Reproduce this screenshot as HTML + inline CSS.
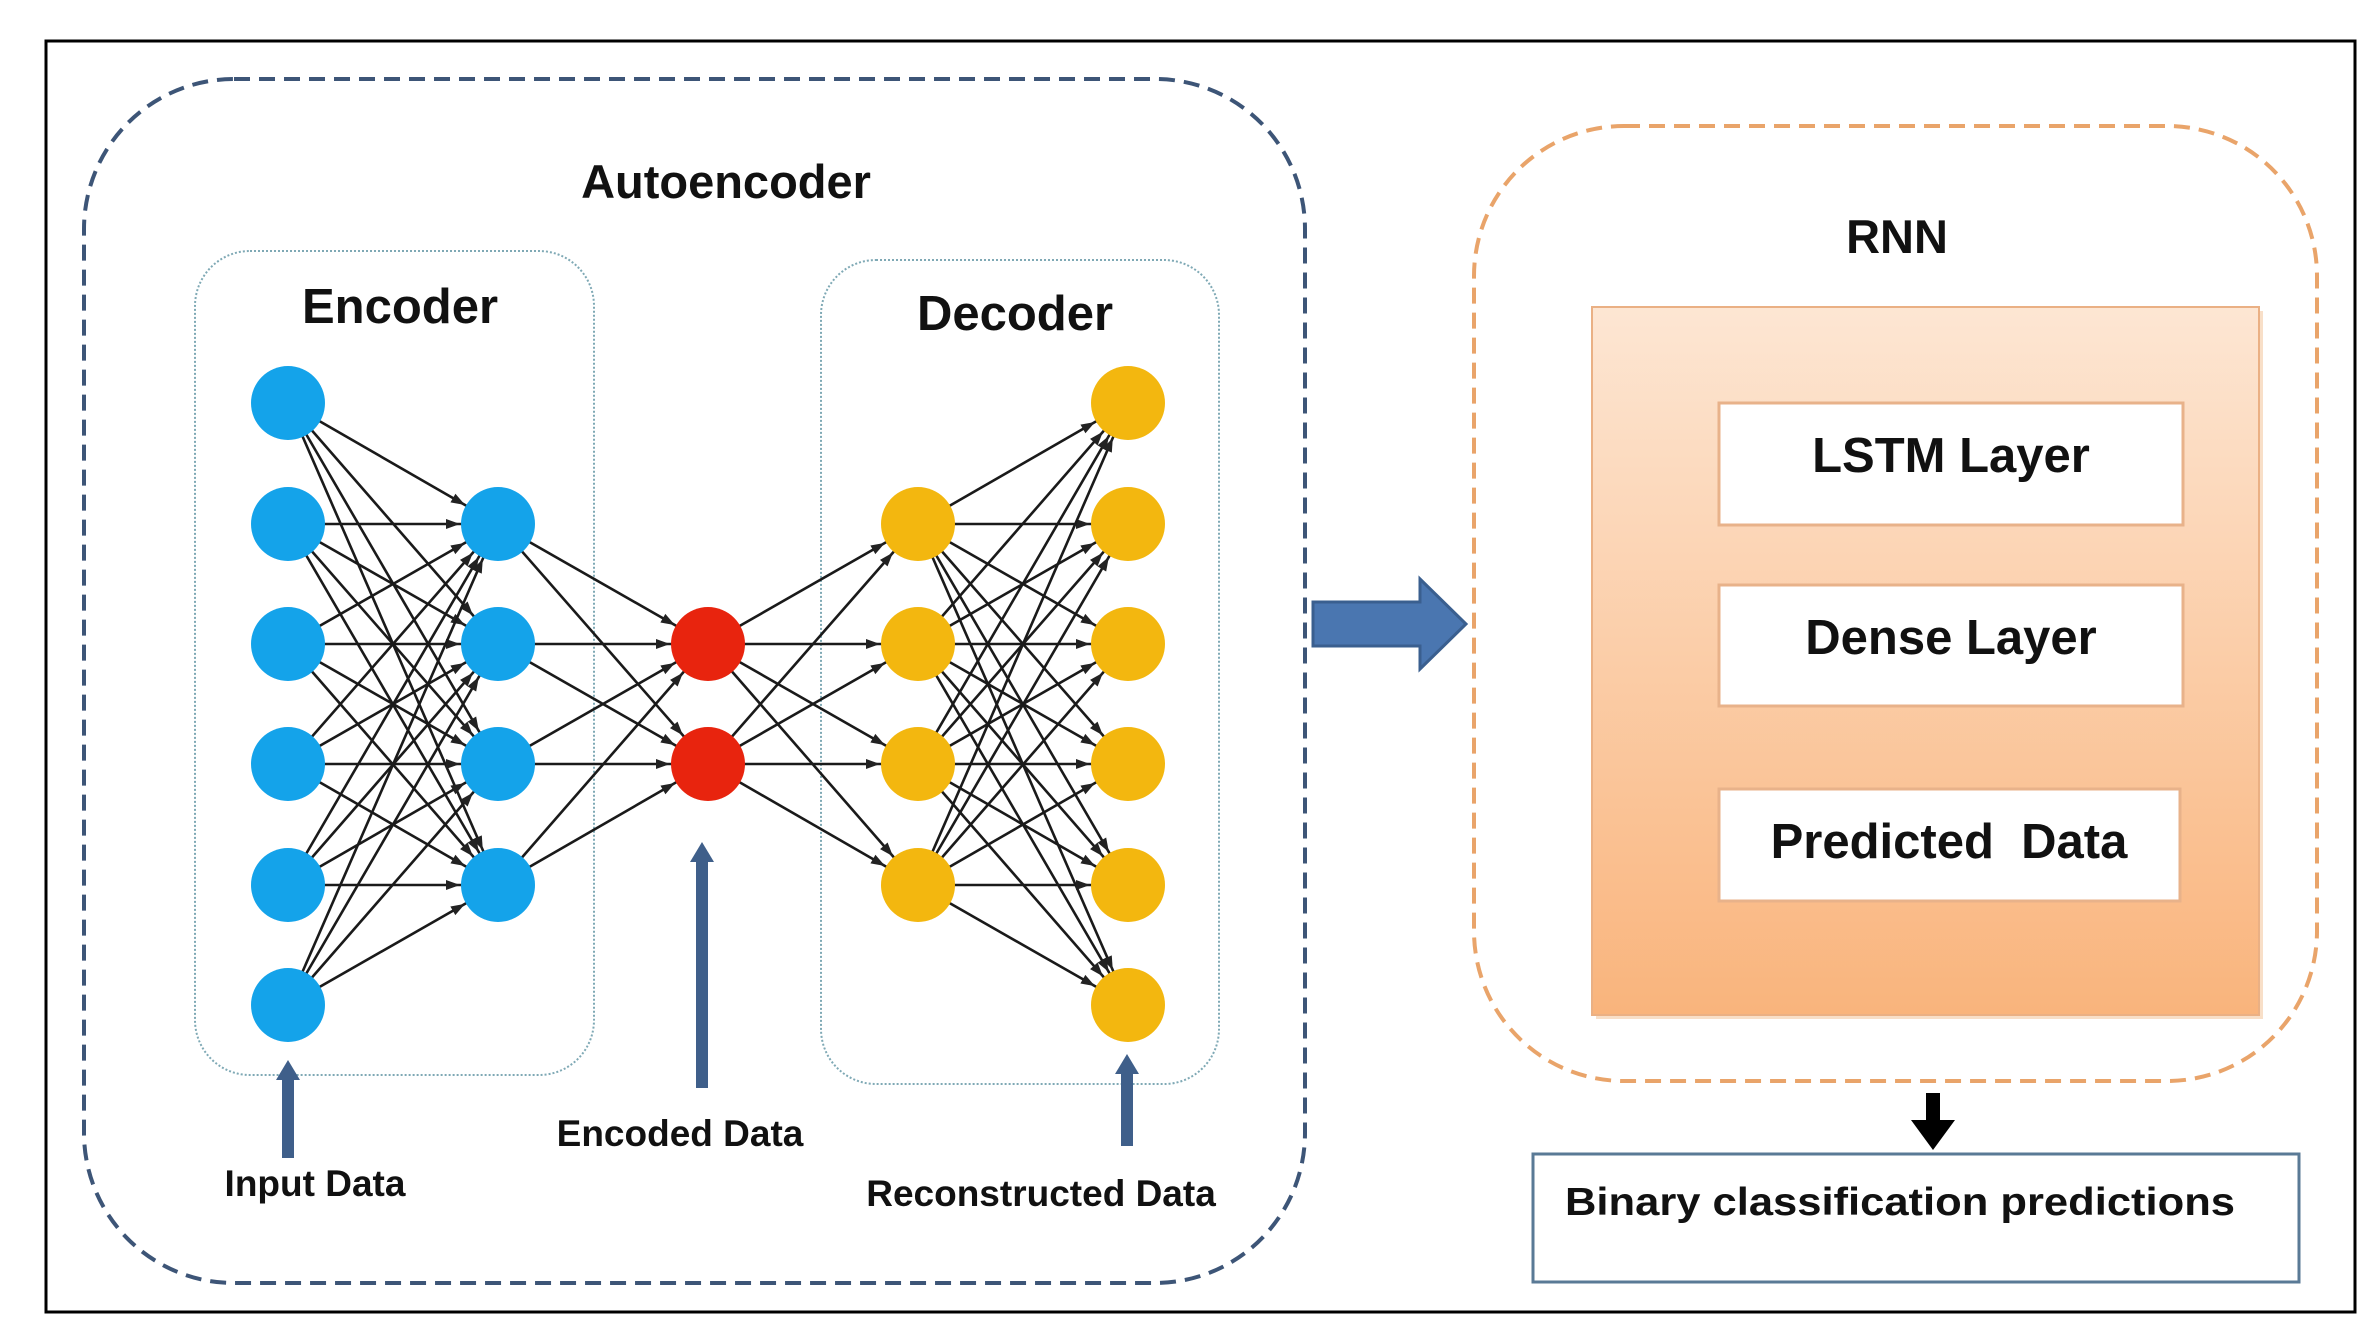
<!DOCTYPE html>
<html><head><meta charset="utf-8"><style>
html,body{margin:0;padding:0;background:#fff}
svg{display:block}
text{font-family:"Liberation Sans",sans-serif;font-weight:bold;fill:#111}
</style></head><body>
<svg width="2375" height="1339" viewBox="0 0 2375 1339" xmlns="http://www.w3.org/2000/svg">
<defs>
<marker id="a" markerUnits="userSpaceOnUse" markerWidth="1" markerHeight="1" refX="0" refY="0" orient="auto" style="overflow:visible">
<path d="M-52,-5 L-38,0 L-52,5 z" fill="#222"/>
</marker>
<linearGradient id="og" x1="0" y1="0" x2="0" y2="1">
<stop offset="0" stop-color="#fde6d3"/><stop offset="1" stop-color="#f9b47c"/>
</linearGradient>
</defs>
<rect x="46" y="41" width="2309" height="1271" fill="none" stroke="#000" stroke-width="3"/>
<rect x="84" y="79" width="1221" height="1204" rx="150" fill="none" stroke="#3d5577" stroke-width="4" stroke-dasharray="16,9"/>
<text x="726" y="198" font-size="47" text-anchor="middle">Autoencoder</text>
<rect x="195" y="251" width="399" height="824" rx="55" fill="none" stroke="#7fa9b5" stroke-width="2" stroke-dasharray="2,2"/>
<rect x="821" y="260" width="398" height="824" rx="55" fill="none" stroke="#7fa9b5" stroke-width="2" stroke-dasharray="2,2"/>
<text x="400" y="323" font-size="49" text-anchor="middle">Encoder</text>
<text x="1015" y="330" font-size="49" text-anchor="middle">Decoder</text>
<g stroke="#1a1a1a" stroke-width="2.6" marker-end="url(#a)">
<line x1="288" y1="403" x2="498" y2="524"/><line x1="288" y1="403" x2="498" y2="644"/><line x1="288" y1="403" x2="498" y2="764"/><line x1="288" y1="403" x2="498" y2="885"/>
<line x1="288" y1="524" x2="498" y2="524"/><line x1="288" y1="524" x2="498" y2="644"/><line x1="288" y1="524" x2="498" y2="764"/><line x1="288" y1="524" x2="498" y2="885"/>
<line x1="288" y1="644" x2="498" y2="524"/><line x1="288" y1="644" x2="498" y2="644"/><line x1="288" y1="644" x2="498" y2="764"/><line x1="288" y1="644" x2="498" y2="885"/>
<line x1="288" y1="764" x2="498" y2="524"/><line x1="288" y1="764" x2="498" y2="644"/><line x1="288" y1="764" x2="498" y2="764"/><line x1="288" y1="764" x2="498" y2="885"/>
<line x1="288" y1="885" x2="498" y2="524"/><line x1="288" y1="885" x2="498" y2="644"/><line x1="288" y1="885" x2="498" y2="764"/><line x1="288" y1="885" x2="498" y2="885"/>
<line x1="288" y1="1005" x2="498" y2="524"/><line x1="288" y1="1005" x2="498" y2="644"/><line x1="288" y1="1005" x2="498" y2="764"/><line x1="288" y1="1005" x2="498" y2="885"/>
<line x1="498" y1="524" x2="708" y2="644"/><line x1="498" y1="524" x2="708" y2="764"/>
<line x1="498" y1="644" x2="708" y2="644"/><line x1="498" y1="644" x2="708" y2="764"/>
<line x1="498" y1="764" x2="708" y2="644"/><line x1="498" y1="764" x2="708" y2="764"/>
<line x1="498" y1="885" x2="708" y2="644"/><line x1="498" y1="885" x2="708" y2="764"/>
<line x1="708" y1="644" x2="918" y2="524"/><line x1="708" y1="644" x2="918" y2="644"/><line x1="708" y1="644" x2="918" y2="764"/><line x1="708" y1="644" x2="918" y2="885"/>
<line x1="708" y1="764" x2="918" y2="524"/><line x1="708" y1="764" x2="918" y2="644"/><line x1="708" y1="764" x2="918" y2="764"/><line x1="708" y1="764" x2="918" y2="885"/>
<line x1="918" y1="524" x2="1128" y2="403"/><line x1="918" y1="524" x2="1128" y2="524"/><line x1="918" y1="524" x2="1128" y2="644"/><line x1="918" y1="524" x2="1128" y2="764"/><line x1="918" y1="524" x2="1128" y2="885"/><line x1="918" y1="524" x2="1128" y2="1005"/>
<line x1="918" y1="644" x2="1128" y2="403"/><line x1="918" y1="644" x2="1128" y2="524"/><line x1="918" y1="644" x2="1128" y2="644"/><line x1="918" y1="644" x2="1128" y2="764"/><line x1="918" y1="644" x2="1128" y2="885"/><line x1="918" y1="644" x2="1128" y2="1005"/>
<line x1="918" y1="764" x2="1128" y2="403"/><line x1="918" y1="764" x2="1128" y2="524"/><line x1="918" y1="764" x2="1128" y2="644"/><line x1="918" y1="764" x2="1128" y2="764"/><line x1="918" y1="764" x2="1128" y2="885"/><line x1="918" y1="764" x2="1128" y2="1005"/>
<line x1="918" y1="885" x2="1128" y2="403"/><line x1="918" y1="885" x2="1128" y2="524"/><line x1="918" y1="885" x2="1128" y2="644"/><line x1="918" y1="885" x2="1128" y2="764"/><line x1="918" y1="885" x2="1128" y2="885"/><line x1="918" y1="885" x2="1128" y2="1005"/>
</g>
<g fill="#14a3ea">
<circle cx="288" cy="403" r="37"/><circle cx="288" cy="524" r="37"/><circle cx="288" cy="644" r="37"/><circle cx="288" cy="764" r="37"/><circle cx="288" cy="885" r="37"/><circle cx="288" cy="1005" r="37"/>
<circle cx="498" cy="524" r="37"/><circle cx="498" cy="644" r="37"/><circle cx="498" cy="764" r="37"/><circle cx="498" cy="885" r="37"/>
</g>
<g fill="#e8240e"><circle cx="708" cy="644" r="37"/><circle cx="708" cy="764" r="37"/></g>
<g fill="#f3b70f">
<circle cx="918" cy="524" r="37"/><circle cx="918" cy="644" r="37"/><circle cx="918" cy="764" r="37"/><circle cx="918" cy="885" r="37"/>
<circle cx="1128" cy="403" r="37"/><circle cx="1128" cy="524" r="37"/><circle cx="1128" cy="644" r="37"/><circle cx="1128" cy="764" r="37"/><circle cx="1128" cy="885" r="37"/><circle cx="1128" cy="1005" r="37"/>
</g>
<g fill="#3f5f8a">
<rect x="282" y="1078" width="12" height="80"/><path d="M276,1080 L288,1060 L300,1080 z"/>
<rect x="696" y="860" width="12" height="228"/><path d="M690,862 L702,842 L714,862 z"/>
<rect x="1121" y="1072" width="12" height="74"/><path d="M1115,1074 L1127,1054 L1139,1074 z"/>
</g>
<text x="315" y="1196" font-size="37" text-anchor="middle">Input Data</text>
<text x="680" y="1146" font-size="37" text-anchor="middle">Encoded Data</text>
<text x="1041" y="1206" font-size="37" text-anchor="middle">Reconstructed Data</text>
<path d="M1313,602 L1420,602 L1420,579 L1466,624 L1420,669 L1420,646 L1313,646 z" fill="#4a76b0" stroke="#3a5f8f" stroke-width="3"/>
<rect x="1474" y="126" width="843" height="955" rx="150" fill="none" stroke="#e9a46a" stroke-width="4" stroke-dasharray="16,9"/>
<text x="1897" y="253" font-size="47" text-anchor="middle">RNN</text>
<rect x="1596" y="311" width="667" height="708" fill="#f4c9a4" opacity="0.6"/>
<rect x="1592" y="307" width="667" height="708" fill="url(#og)" stroke="#eab084" stroke-width="2"/>
<rect x="1719" y="403" width="464" height="122" fill="#fff" stroke="#e8b28a" stroke-width="3"/>
<rect x="1719" y="585" width="464" height="121" fill="#fff" stroke="#e8b28a" stroke-width="3"/>
<rect x="1719" y="789" width="461" height="112" fill="#fff" stroke="#e8b28a" stroke-width="3"/>
<text x="1951" y="472" font-size="49" text-anchor="middle">LSTM Layer</text>
<text x="1951" y="654" font-size="49" text-anchor="middle">Dense Layer</text>
<text x="1949" y="858" font-size="49" text-anchor="middle">Predicted&#160; Data</text>
<rect x="1926" y="1093" width="14" height="30" fill="#000"/><path d="M1911,1120 L1955,1120 L1933,1150 z" fill="#000"/>
<rect x="1533" y="1154" width="766" height="128" fill="#fff" stroke="#5a7a96" stroke-width="3"/>
<text x="1565" y="1215" font-size="39" textLength="670" lengthAdjust="spacingAndGlyphs">Binary classification predictions</text>
</svg>
</body></html>
